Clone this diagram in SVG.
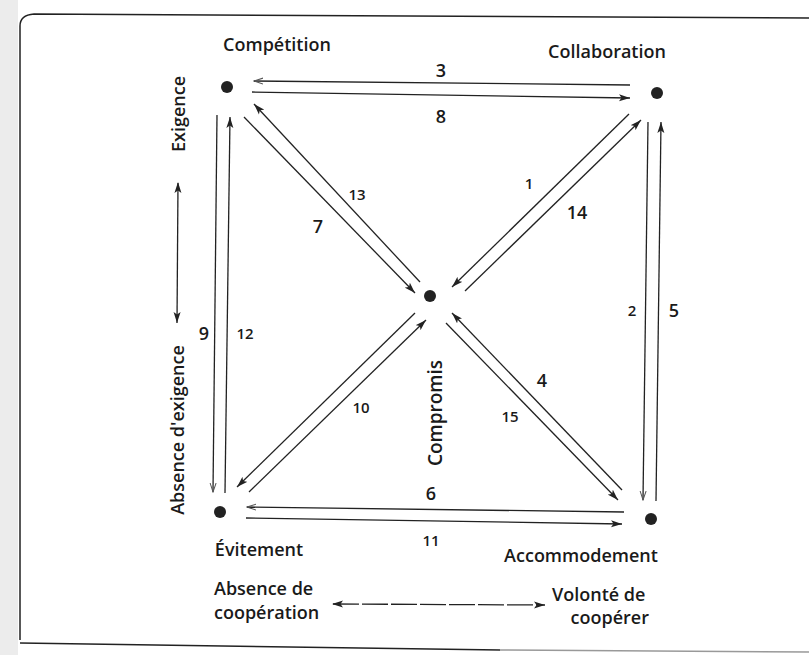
<svg xmlns="http://www.w3.org/2000/svg" width="809" height="655" viewBox="0 0 809 655">
<style>
.t{font-family:"Open Sans","Noto Sans",sans-serif;font-size:18px;font-weight:600;fill:#1a1a1a}
.m{text-anchor:middle}
.s{font-size:15px}
.c line{stroke:#222;stroke-width:1.3;fill:none}
.dot{fill:#222}
</style>
<defs>
<marker id="ah" markerUnits="userSpaceOnUse" markerWidth="12" markerHeight="8" refX="11" refY="4" orient="auto">
<path d="M0,0.5 L11,4 L0,7.5 L2.5,4 Z" fill="#222"/>
</marker>
<marker id="ahl" markerUnits="userSpaceOnUse" markerWidth="10" markerHeight="8" refX="9" refY="4" orient="auto">
<path d="M0,1 L9,4 L0,7" fill="none" stroke="#555" stroke-width="1"/>
</marker>
<marker id="ahs" markerUnits="userSpaceOnUse" markerWidth="12" markerHeight="8" refX="1" refY="4" orient="auto">
<path d="M11,0.5 L0,4 L11,7.5 L8.5,4 Z" fill="#222"/>
</marker>
</defs>
<rect x="0" y="0" width="18" height="655" fill="#ececec"/>
<g id="frame" fill="none" stroke="#222" stroke-width="1.5">
<path d="M20,640 L20,26 Q20,15 34,14 L809,18"/>
<path d="M20,643 L500,650" />
<path d="M500,650 L809,652" stroke="#999"/>
</g>
<g id="nodes">
<g id="competition"><circle class="dot" cx="227" cy="87" r="6"/><text class="t m" x="277" y="51">Compétition</text></g>
<g id="collaboration"><circle class="dot" cx="657" cy="93" r="6"/><text class="t m" x="607" y="58">Collaboration</text></g>
<g id="compromis"><circle class="dot" cx="430" cy="296" r="6"/><text class="t m" style="font-size:19px" transform="translate(442,413) rotate(-90)">Compromis</text></g>
<g id="evitement"><circle class="dot" cx="220" cy="512" r="6"/><text class="t m" x="259" y="556">Évitement</text></g>
<g id="accommodement"><circle class="dot" cx="651" cy="519" r="6"/><text class="t m" x="581" y="562">Accommodement</text></g>
</g>
<g id="connectors" class="c">
<line x1="630" y1="85" x2="254" y2="81" marker-end="url(#ahl)"/>
<line x1="252" y1="92" x2="630" y2="98" marker-end="url(#ah)"/>
<line x1="217" y1="115" x2="213" y2="492" marker-end="url(#ahl)"/>
<line x1="225" y1="493" x2="230" y2="117" marker-end="url(#ah)"/>
<line x1="648" y1="122" x2="643" y2="500" marker-end="url(#ahl)"/>
<line x1="656" y1="501" x2="661" y2="122" marker-end="url(#ah)"/>
<line x1="624" y1="512" x2="247" y2="507" marker-end="url(#ahl)"/>
<line x1="246" y1="518" x2="622" y2="524" marker-end="url(#ah)"/>
<line x1="420" y1="282" x2="254" y2="104" marker-end="url(#ah)"/>
<line x1="244" y1="117" x2="415" y2="293" marker-end="url(#ah)"/>
<line x1="629" y1="114" x2="452" y2="287" marker-end="url(#ah)"/>
<line x1="465" y1="291" x2="641" y2="120" marker-end="url(#ah)"/>
<line x1="415" y1="313" x2="237" y2="487" marker-end="url(#ah)"/>
<line x1="249" y1="492" x2="426" y2="320" marker-end="url(#ah)"/>
<line x1="622" y1="490" x2="452" y2="313" marker-end="url(#ah)"/>
<line x1="446" y1="323" x2="618" y2="500" marker-end="url(#ah)"/>
<line x1="178" y1="183" x2="177" y2="323" marker-start="url(#ahs)" marker-end="url(#ah)"/>
<line x1="333" y1="604" x2="545" y2="605" stroke-dasharray="26 3" marker-start="url(#ahs)" marker-end="url(#ah)"/>
</g>
<g id="labels">
<text class="t m" x="441" y="77">3</text>
<text class="t m" x="441" y="123">8</text>
<text class="t m s" x="357" y="200">13</text>
<text class="t m" x="318" y="233">7</text>
<text class="t m s" x="529" y="189">1</text>
<text class="t m" x="577" y="219">14</text>
<text class="t m" x="204" y="340">9</text>
<text class="t m s" x="245" y="339">12</text>
<text class="t m s" x="632" y="316">2</text>
<text class="t m" x="674" y="317">5</text>
<text class="t m s" x="361" y="413">10</text>
<text class="t m" x="542" y="387">4</text>
<text class="t m s" x="510" y="422">15</text>
<text class="t m" x="431" y="500">6</text>
<text class="t m s" x="431" y="546">11</text>
<text class="t m" transform="translate(185,114) rotate(-90)">Exigence</text>
<text class="t m" transform="translate(184,430) rotate(-90)">Absence d'exigence</text>
<text class="t" x="214" y="595">Absence de</text>
<text class="t" x="214" y="619">coopération</text>
<text class="t" x="552" y="601">Volonté de</text>
<text class="t" x="649" y="624" text-anchor="end">coopérer</text>
</g>
</svg>
